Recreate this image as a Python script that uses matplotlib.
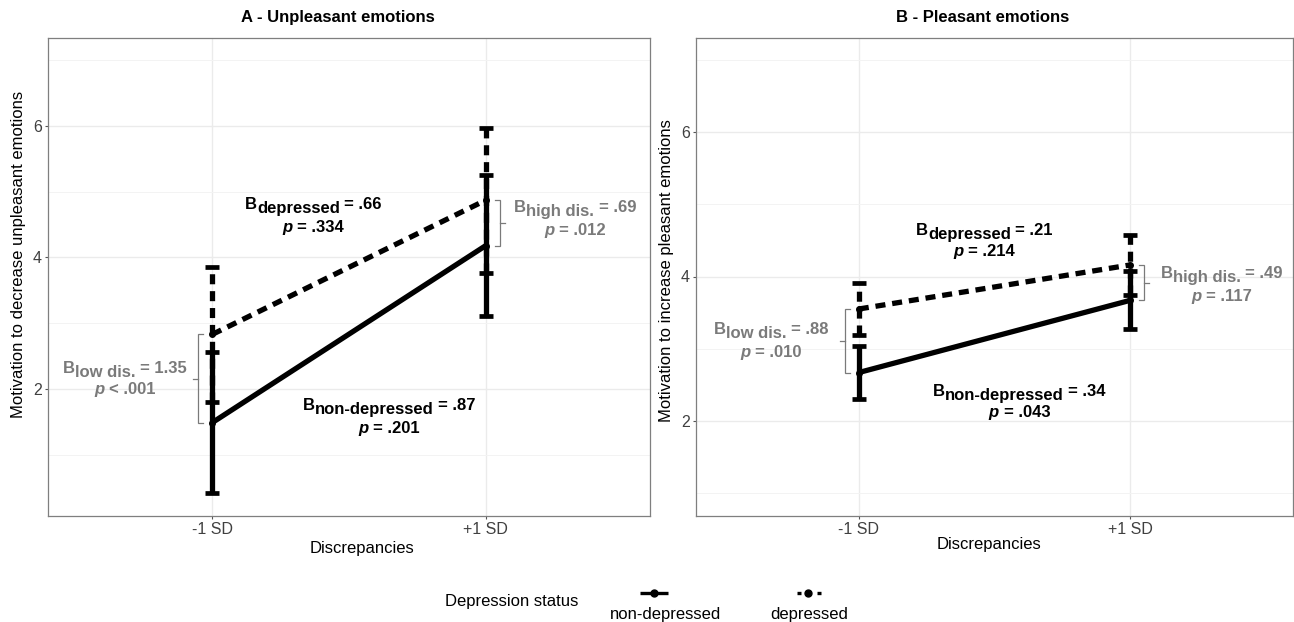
import matplotlib
matplotlib.use('Agg')
import matplotlib.pyplot as plt
from matplotlib.transforms import offset_copy
from matplotlib.lines import Line2D

plt.rcParams['font.family'] = ['Liberation Sans', 'DejaVu Sans']

# ---------------- data ----------------
categories = ['-1 SD', '+1 SD']
groups = ['non-depressed', 'depressed']

# Panel A - Unpleasant emotions
a_nondep_mean = [1.49, 4.18]
a_nondep_err = [1.07, 1.07]
a_dep_mean = [2.83, 4.87]
a_dep_err = [1.03, 1.10]

# Panel B - Pleasant emotions
b_nondep_mean = [2.67, 3.67]
b_nondep_err = [0.37, 0.40]
b_dep_mean = [3.55, 4.16]
b_dep_err = [0.36, 0.41]

titles = ['A - Unpleasant emotions', 'B - Pleasant emotions']
ylabels = ['Motivation to decrease unpleasant emotions',
           'Motivation to increase pleasant emotions']
xlabel = 'Discrepancies'

# annotations: (subscript, B value, p sign, p value)
a_annot = {'dep': ('depressed', '.66', '=', '.334'),
           'nondep': ('non-depressed', '.87', '=', '.201'),
           'high': ('high dis.', '.69', '=', '.012'),
           'low': ('low dis.', '1.35', '<', '.001')}
b_annot = {'dep': ('depressed', '.21', '=', '.214'),
           'nondep': ('non-depressed', '.34', '=', '.043'),
           'high': ('high dis.', '.49', '=', '.117'),
           'low': ('low dis.', '.88', '=', '.010')}

# ---------------- figure ----------------
W, H = 1294, 622
fig = plt.figure(figsize=(W / 100, H / 100), dpi=100)
GRAY = '#7a7a7a'
LW = 3.8
ANN_FS = 12


def fx(x):
    return x / W


def fy(y):
    return 1 - y / H


renderer = fig.canvas.get_renderer()


def text_w(s, fs, style='normal', weight='bold'):
    t = fig.text(0, 0, s, fontsize=fs, fontstyle=style, fontweight=weight)
    w = t.get_window_extent(renderer).width
    t.remove()
    return w


def rich(ax, x, y, parts, color, fs=ANN_FS):
    # parts: (text, style, dy_px, gap_spaces_before)
    sp = text_w('n n', fs) - text_w('nn', fs)
    widths = [text_w(s, fs, st) for s, st, dy, g in parts]
    total = sum(widths) + sum(g * sp for s, st, dy, g in parts)
    x0 = -total / 2
    for (s, st, dy, g), w in zip(parts, widths):
        x0 += g * sp
        tr = offset_copy(ax.transData, fig=fig, x=x0, y=-dy, units='dots')
        ax.text(x, y, s, transform=tr, ha='left', va='baseline', fontsize=fs,
                fontstyle=st, fontweight='bold', color=color, clip_on=False)
        x0 += w


def annotate(ax, x, y1, y2, ann, color):
    sub, bval, sign, pval = ann
    rich(ax, x, y1, [('B', 'normal', 0, 0), (sub, 'normal', 4.0, 0),
                     ('= ' + bval, 'normal', 0, 1)], color)
    rich(ax, x, y2, [('p', 'italic', 0, 0), (sign + ' ' + pval, 'normal', 0, 1)], color)


def bracket(ax, xc, y0, y1, side):
    v, t, m = 0.052, 0.032, 0.07
    xv = xc + side * v
    xt = xc + side * t
    xm = xc + side * m
    ax.plot([xt, xv, xv, xt], [y0, y0, y1, y1], color=GRAY, lw=0.9,
            solid_joinstyle='miter', zorder=2)
    ym = (y0 + y1) / 2
    ax.plot([xv, xm], [ym, ym], color=GRAY, lw=0.9, zorder=2)


def panel(rect, ylim, nd_m, nd_e, d_m, d_e, title_x, title, ylabel, ylab_pos,
          xlab_pos, annpos, ann):
    ax = fig.add_axes(rect)
    xs = [1, 2]
    ax.set_xlim(0.4, 2.6)
    ax.set_ylim(*ylim)
    ax.set_xticks(xs)
    ax.set_xticklabels(categories)
    ax.set_yticks([2, 4, 6])
    ax.set_yticks([1, 3, 5, 7], minor=True)
    ax.grid(which='major', color='#EBEBEB', lw=1.0, zorder=0)
    ax.grid(which='minor', axis='y', color='#F3F3F3', lw=0.7, zorder=0)
    ax.set_axisbelow(True)
    ax.tick_params(which='major', length=2.5, width=0.8, color='#555555',
                   labelsize=11.5, labelcolor='#404040', pad=2)
    ax.tick_params(which='minor', length=0)
    for s in ax.spines.values():
        s.set_color('#7f7f7f')
        s.set_linewidth(0.9)

    # non-depressed (solid)
    ax.plot(xs, nd_m, color='black', lw=LW, solid_capstyle='butt', zorder=4)
    ax.errorbar(xs, nd_m, yerr=nd_e, fmt='none', ecolor='black', elinewidth=LW,
                capsize=5, capthick=3.4, zorder=5)
    # depressed (dashed)
    dash = (0, (1.9, 1.3))
    ax.plot(xs, d_m, color='black', lw=LW, linestyle=dash, dash_capstyle='butt',
            zorder=4)
    eb = ax.errorbar(xs, d_m, yerr=d_e, fmt='none', ecolor='black', elinewidth=LW,
                     capsize=5, capthick=3.4, zorder=5)
    eb[2][0].set_linestyle(dash)
    ax.plot(xs, nd_m, 'o', color='black', ms=4, zorder=6)
    ax.plot(xs, d_m, 'o', color='black', ms=4, zorder=6)

    # brackets for differences between groups
    bracket(ax, 1, nd_m[0], d_m[0], -1)
    bracket(ax, 2, nd_m[1], d_m[1], +1)

    for key, color in [('dep', 'black'), ('nondep', 'black'), ('high', GRAY), ('low', GRAY)]:
        x, y1, y2 = annpos[key]
        annotate(ax, x, y1, y2, ann[key], color)

    fig.text(fx(title_x), fy(21.7), title, ha='center', va='baseline',
             fontsize=12, fontweight='bold')
    fig.text(fx(ylab_pos[0]), fy(ylab_pos[1]), ylabel, rotation=90, ha='center',
             va='center', fontsize=12)
    fig.text(fx(xlab_pos[0]), fy(xlab_pos[1]), xlabel, ha='center', va='center',
             fontsize=12)
    return ax


y_top, y_bot = 37.5, 515.5
axh = (y_bot - y_top) / H
panel([fx(48), fy(y_bot), (650 - 48) / W, axh], (0.08, 7.34),
      a_nondep_mean, a_nondep_err, a_dep_mean, a_dep_err,
      338, titles[0], ylabels[0], (19, 254.5), (362, 549),
      {'dep': (1.37, 4.74, 4.38), 'nondep': (1.647, 1.68, 1.33),
       'high': (2.327, 4.69, 4.34), 'low': (0.682, 2.25, 1.92)}, a_annot)
panel([fx(696), fy(y_bot), (1293 - 696) / W, axh], (0.69, 7.31),
      b_nondep_mean, b_nondep_err, b_dep_mean, b_dep_err,
      983, titles[1], ylabels[1], (666, 270.5), (989, 544),
      {'dep': (1.463, 4.57, 4.28), 'nondep': (1.592, 2.35, 2.055),
       'high': (2.338, 3.98, 3.66), 'low': (0.676, 3.21, 2.89)}, b_annot)

# ---------------- legend ----------------
fig.text(fx(512), fy(601.7), 'Depression status', ha='center', va='center', fontsize=12)
ky = fy(593.3)
fig.add_artist(Line2D([fx(640), fx(668)], [ky, ky], lw=2.4, color='black',
                      solid_capstyle='butt'))
fig.add_artist(Line2D([fx(654)], [ky], marker='o', ms=5, color='black'))
fig.add_artist(Line2D([fx(797), fx(823)], [ky, ky], lw=2.4, color='black',
                      linestyle=(0, (1.2, 1.8)), dash_capstyle='butt'))
fig.add_artist(Line2D([fx(808)], [ky], marker='o', ms=5, color='black'))
fig.text(fx(666), fy(619.3), groups[0], ha='center', va='baseline', fontsize=12)
fig.text(fx(809), fy(619.3), groups[1], ha='center', va='baseline', fontsize=12)

fig.savefig('out.png', dpi=100, facecolor='white')
